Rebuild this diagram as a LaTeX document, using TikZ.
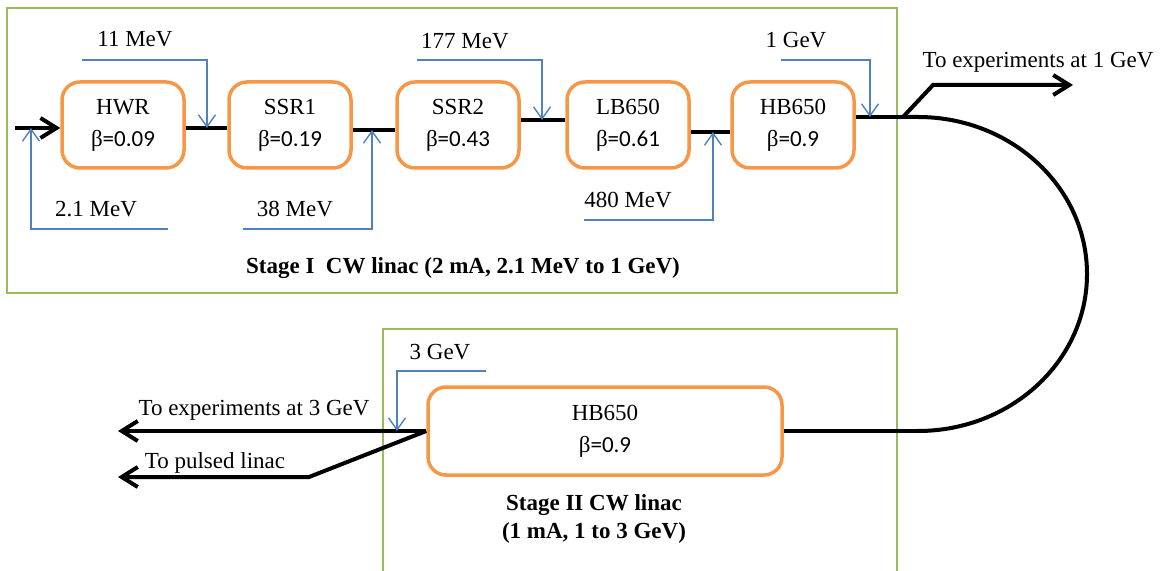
\documentclass[tikz,border=0pt]{standalone}
\usepackage{fontspec}
\setmainfont{Liberation Serif}
\newfontfamily\calfont{Carlito}
\usetikzlibrary{arrows.meta}
\usepackage{xcolor}

\definecolor{cavorange}{HTML}{F79646}
\definecolor{stagegreen}{HTML}{9BBB59}
\definecolor{energyblue}{HTML}{4F81BD}

\newcommand{\betaval}[1]{β{\calfont =#1}}

\begin{document}
\begin{tikzpicture}[
x=0.5pt, y=-0.5pt,
font=\fontsize{11.5}{14}\selectfont,
cavity/.style={draw=cavorange,
line width=1.75pt,
rounded corners=9pt,
minimum width=61pt,
minimum height=43pt,
inner sep=0pt,
align=center},
stageframe/.style={draw=stagegreen, line width=0.6pt},
beam/.style={line width=2pt},
beamarrow/.style={beam, -{Straight Barb[length=8pt, width=10pt]}},
energy/.style={draw=energyblue, line width=0.7pt, -{Straight Barb[length=6pt, width=8.5pt]}},
stagelabel/.style={font=\fontsize{11.5}{14}\selectfont\bfseries, align=center}
]

\useasboundingbox (0,0) rectangle (1160,571);

% stage frames
\draw[stageframe] (7,8) rectangle (897,293);
\draw[stageframe] (383,571) -- (383,329) -- (897,329) -- (897,571);

% Stage I cavities
\node[cavity] (hwr) at (123,125) {HWR\\[2pt]\betaval{0.09}};
\node[cavity] (ssr1) at (290,125) {SSR1\\[2pt]\betaval{0.19}};
\node[cavity] (ssr2) at (458,125) {SSR2\\[2pt]\betaval{0.43}};
\node[cavity] (lb) at (628,125) {LB650\\[2pt]\betaval{0.61}};
\node[cavity] (hb) at (793,125) {HB650\\[2pt]\betaval{0.9}};

% Stage II cavity
\node[cavity, minimum width=177pt, minimum height=44pt] (hbII) at (605,431) {HB650\\[2pt]\betaval{0.9}};

% beam line points
\coordinate (src) at (15,128);
\coordinate (split) at (903,117);
\coordinate (kinkA) at (933,85);
\coordinate (expA) at (1073,85);
\coordinate (bendin) at (918,117);
\coordinate (bendfar) at (1087,274);
\coordinate (bendout) at (918,431);
\coordinate (expB) at (118,431);
\coordinate (kinkB) at (309,477);
\coordinate (pulsed) at (118,477);

\draw[beamarrow] (src) -- ([yshift=-1.5pt]hwr.west);
\draw[beam] ([yshift=-1.5pt]hwr.east) -- ([yshift=-1.5pt]ssr1.west);
\draw[beam] ([yshift=-2.5pt]ssr1.east) -- ([yshift=-2.5pt]ssr2.west);
\draw[beam] ([yshift=2.5pt]ssr2.east) -- ([yshift=2.5pt]lb.west);
\draw[beam] ([yshift=-3.5pt]lb.east) -- ([yshift=-3.5pt]hb.west);
\draw[beam] ([yshift=4pt]hb.east) -- (split);
\draw[beamarrow] (split) -- (kinkA) -- (expA);
\draw[beam] (split) -- (bendin)
  .. controls (1011,117) and (1087,187) .. (bendfar)
  .. controls (1087,361) and (1011,431) .. (bendout);
\draw[beam] (hbII.east) -- (bendout);
\draw[beamarrow] (hbII.west) -- (expB);
\draw[beamarrow] (hbII.west) -- (kinkB) -- (pulsed);

% energy markers
\coordinate (e11s) at (82,60);    \coordinate (e11t) at (207,128);
\coordinate (e21s) at (168,229);  \coordinate (e21t) at (31,128);
\coordinate (e38s) at (243,229);  \coordinate (e38t) at (372,130);
\coordinate (e177s) at (417,60);  \coordinate (e177t) at (542,120);
\coordinate (e480s) at (584,220); \coordinate (e480t) at (713,132);
\coordinate (e1Gs) at (781,60);   \coordinate (e1Gt) at (870,117);
\coordinate (e3Gs) at (486,371);  \coordinate (e3Gt) at (397,431);

\draw[energy] (e11s) -| (e11t);
\draw[energy] (e21s) -| (e21t);
\draw[energy] (e38s) -| (e38t);
\draw[energy] (e177s) -| (e177t);
\draw[energy] (e480s) -| (e480t);
\draw[energy] (e1Gs) -| (e1Gt);
\draw[energy] (e3Gs) -| (e3Gt);

\node (t11) at (135,39) {11 MeV};
\node (t21) at (96,209) {2.1 MeV};
\node (t38) at (295,209) {38 MeV};
\node (t177) at (465,41) {177 MeV};
\node (t480) at (628,200) {480 MeV};
\node (t1G) at (796,40) {1 GeV};
\node (t3G) at (440,352) {3 GeV};

% beam destinations
\node (lexpA) at (1038,62) {To experiments at 1 GeV};
\node (lexpB) at (254,410) {To experiments at 3 GeV};
\node (lpulsed) at (215,463) {To pulsed linac};

% stage titles
\node[stagelabel] (stageI) at (463,268) {Stage I\ \ CW linac (2 mA, 2.1 MeV to 1 GeV)};
\node[stagelabel] (stageII) at (594,519) {Stage II CW linac\\(1 mA, 1 to 3 GeV)};

\end{tikzpicture}
\end{document}
